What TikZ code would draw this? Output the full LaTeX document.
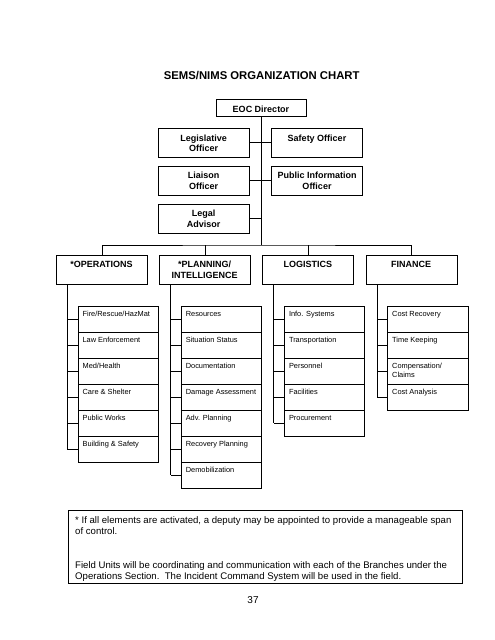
\documentclass[tikz,border=0pt]{standalone}
\usepackage{fontspec}
\setmainfont{Liberation Sans}
\begin{document}
\begin{tikzpicture}[x=1pt,y=-1pt,
  box/.style={draw=black, line width=0.8pt, inner sep=0pt, fill=white},
  hd/.style={font=\fontsize{9}{10.6}\selectfont\bfseries, align=center, inner sep=0pt, anchor=north},
  sm/.style={font=\fontsize{7.4}{8.7}\selectfont, align=left, inner sep=0pt, anchor=north west},
  ln/.style={draw=black, line width=0.8pt}]
\useasboundingbox (0,0) rectangle (495,640);

\newcommand\tbox[6]{%
  \node[box, minimum width={#4-#2}, minimum height={#5-#3}] (#1) at ({(#2+#4)/2},{(#3+#5)/2}) {};
  \node[hd] (#1-t) at ({(#2+#4)/2},{#3+6.2}) {#6};}

\newcommand\mksec[4]{%
  \pgfmathsetmacro\secL{56+103.2*#2}
  \node[box, minimum width=91, minimum height=29.3, anchor=north west] (#1) at (\secL,255) {};
  \node[hd] (#1-t) at (\secL+45.5,261.1) {#3};
  \coordinate (#1-b) at (\secL+11.3,284.3);
  \foreach \txt [count=\k] in {#4} {
    \node[box, minimum width=80.3, minimum height=26, anchor=north west] (#1\k) at (\secL+21.7,{305.7+26*(\k-1)}) {};
    \node[sm] (#1\k-t) at (\secL+26.4,{305.7+26*(\k-1)+5.65}) {\txt};
    \draw[ln] (#1\k.west) -- (#1\k.west -| #1-b);
    \xdef\lastk{\k}
  }
  \draw[ln] (#1-b) -- (#1-b |- #1\lastk.west);
}

% title
\node[font=\fontsize{11.3}{13}\selectfont\bfseries, inner sep=0pt] (title) at (261.7,75.5) {SEMS/NIMS ORGANIZATION CHART};

% command staff
\tbox{eoc}{216}{99.3}{306}{116}{EOC Director}
\tbox{leg}{158.3}{128.3}{249}{157.3}{Legislative\\Officer}
\tbox{saf}{271.7}{128.3}{362.3}{157.3}{Safety Officer}
\tbox{lia}{158.3}{166}{249}{195.7}{Liaison\\Officer}
\tbox{pio}{271.7}{166}{362.3}{195.7}{Public Information\\Officer}
\tbox{lgl}{158.3}{204}{249}{233.3}{Legal\\Advisor}

\coordinate (hub) at (261,245);
\draw[ln] (eoc.south) -- (hub);
\draw[ln] (leg.east) -- (saf.west);
\draw[ln] (lia.east) -- (pio.west);
\draw[ln] (lgl.east) -- (lgl.east -| hub);

% sections
\mksec{ops}{0}{*OPERATIONS}{Fire/Rescue/HazMat, Law Enforcement, Med/Health, Care \& Shelter, Public Works, Building \& Safety}
\mksec{pln}{1}{*PLANNING/\\INTELLIGENCE}{Resources, Situation Status, Documentation, Damage Assessment, Adv. Planning, Recovery Planning, Demobilization}
\mksec{log}{2}{LOGISTICS}{Info. Systems, Transportation, Personnel, Facilities, Procurement}
\mksec{fin}{3}{FINANCE}{Cost Recovery, Time Keeping, {Compensation/\\Claims}, Cost Analysis}

\draw[ln] (ops.north) |- (hub) -| (fin.north);
\draw[ln] (pln.north) -- (pln.north |- hub);
\draw[ln] (log.north) -- (log.north |- hub);

% footer note
\node[box, minimum width=394, minimum height=73.6, anchor=north west] (note) at (68.3,509.7) {};
\node[font=\fontsize{9.6}{10.5}\selectfont, align=left, inner sep=0pt, anchor=north west] (note-t) at (75,516.5)
 {* If all elements are activated, a deputy may be appointed to provide a manageable span\\
  of control.\\[24pt]
  Field Units will be coordinating and communication with each of the Branches under the\\
  Operations Section.\ \ The Incident Command System will be used in the field.};

\node[font=\fontsize{10}{12}\selectfont, inner sep=0pt] (page) at (253,600) {37};
\end{tikzpicture}
\end{document}
